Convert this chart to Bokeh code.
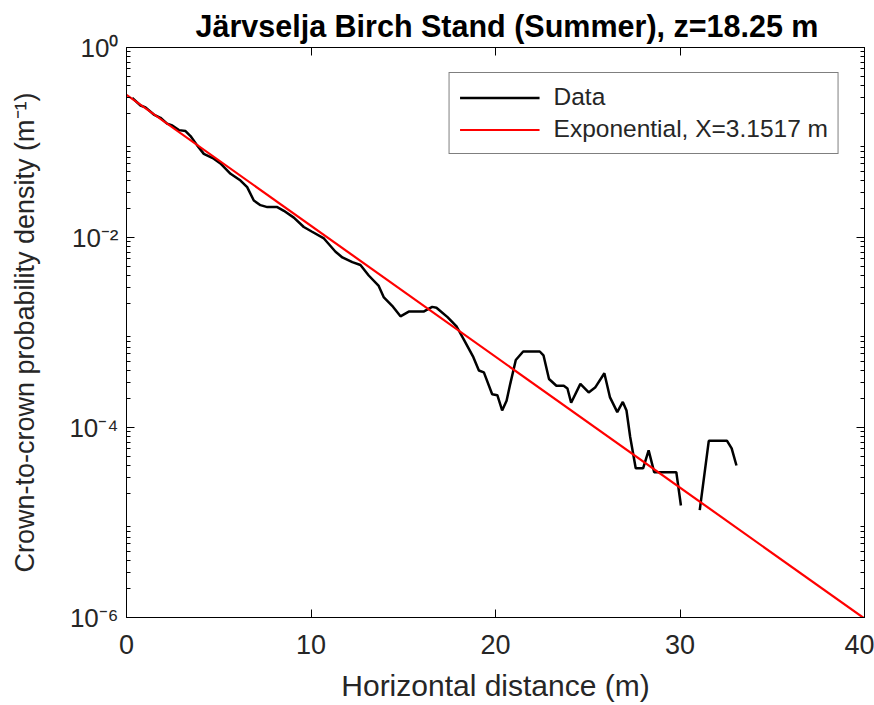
from bokeh.plotting import figure
from bokeh.models import (FixedTicker, LogAxis, LinearAxis, CustomJSTickFormatter,
                          Legend, LegendItem)
from bokeh.embed import file_html
from bokeh.resources import INLINE

nan = float("nan")

# ---- data ----
dist = [0.31, 0.76, 1.03, 1.48, 1.84, 2.2, 2.48, 2.84, 3.2, 3.47, 3.83, 4.19, 4.73,
        5.09, 5.64, 6.18, 6.54, 6.9, 7.26, 7.63, 8.17, 8.53, 9.07, 9.61, 10.06, 10.7,
        11.33, 11.7, 12.24, 12.68, 13.13, 13.67, 13.95, 14.4, 14.85, 15.3, 16.1, 16.57,
        16.8, 17.4, 17.9, 18.3, 18.8, 19.1, 19.37, 19.82, 20.1, 20.36, 20.6, 20.8, 21.1,
        21.5, 22.4, 22.6, 22.9, 23.3, 23.7, 23.9, 24.1, 24.6, 25.05, 25.4, 25.9, 26.2,
        26.6, 26.9, 27.1, 27.3, 27.6, 28.0, 28.3, 28.6, 29.8, 30.05, 30.6,
        31.07, 31.56, 32.55, 32.8, 33.06]
density = [0.295, 0.245, 0.234, 0.197, 0.182, 0.158, 0.151, 0.135, 0.132, 0.117, 0.0933,
           0.0759, 0.0676, 0.0603, 0.0468, 0.0398, 0.0339, 0.0245, 0.0219, 0.0209, 0.0209,
           0.0191, 0.0162, 0.0129, 0.0115, 0.00977, 0.00708, 0.00617, 0.0055, 0.00513,
           0.00398, 0.00309, 0.00234, 0.00191, 0.00148, 0.00166, 0.00166, 0.00186, 0.00182,
           0.00145, 0.00115, 0.000832, 0.00055, 0.000398, 0.00038, 0.000224, 0.000219,
           0.000151, 0.000191, 0.000288, 0.000513, 0.000631, 0.000631, 0.000575, 0.000324,
           0.000275, 0.000275, 0.000257, 0.000182, 0.000288, 0.000234, 0.000263, 0.000372,
           0.000209, 0.000145, 0.000186, 0.000151, 7.94e-05, 3.72e-05, 3.72e-05, 5.75e-05,
           3.39e-05, 3.39e-05, 1.51e-05, nan,
           1.35e-05, 7.24e-05, 7.24e-05, 6.03e-05, 3.98e-05]

# exponential fit (straight line on the log axis), end points
fit_x = [0.0, 40.0]
fit_y = [0.3173, 9.75e-07]
fit_label = "Exponential, X=3.1517 m"

title_text = "Järvselja Birch Stand (Summer), z=18.25 m"
x_label = "Horizontal distance (m)"
y_label = "Crown-to-crown probability density (m⁻¹)"
x_ticks = [0, 10, 20, 30, 40]
y_ticks = [1e-6, 1e-4, 1e-2, 1e0]
y_minor = [k * 10.0 ** e for e in range(-6, 0) for k in range(2, 10)]

FONT = "'Liberation Sans', Arial, sans-serif"
TXT = "#262626"

p = figure(width=874, height=705, x_range=(0, 40), y_range=(1e-6, 1e0),
           y_axis_type="log", output_backend="svg", toolbar_location=None,
           min_border_left=126, min_border_right=10, min_border_top=47,
           min_border_bottom=88)
p.background_fill_color = "white"
p.border_fill_color = "white"
p.outline_line_color = "black"
p.xgrid.visible = False
p.ygrid.visible = False

p.title.text = title_text
p.title.align = "left"
p.title.offset = 69
p.title.text_font = FONT
p.title.text_font_size = "30.5px"
p.title.text_font_style = "bold"
p.title.text_color = "black"

yt = FixedTicker(ticks=y_ticks, minor_ticks=y_minor)
xt = FixedTicker(ticks=x_ticks)

sup_fmt = CustomJSTickFormatter(code="""
const m = {'0':'\u2070','1':'\u00b9','2':'\u00b2','3':'\u00b3','4':'\u2074','5':'\u2075','6':'\u2076','7':'\u2077','8':'\u2078','9':'\u2079','-':'\u207b'};
const e = String(Math.round(Math.log10(tick)));
let s = '';
for (const c of e) { s += m[c]; }
return '10' + s;
""")

def style_axis(ax, labels=True):
    ax.axis_line_color = "black"
    ax.axis_line_width = 1
    ax.major_tick_line_color = "black"
    ax.minor_tick_line_color = "black"
    ax.major_tick_in = 8
    ax.major_tick_out = 0
    ax.minor_tick_in = 4
    ax.minor_tick_out = 0
    ax.major_label_text_font = FONT
    ax.major_label_text_color = TXT
    ax.axis_label_text_font = FONT
    ax.axis_label_text_color = TXT
    ax.axis_label_text_font_style = "normal"
    if not labels:
        ax.major_label_text_font_size = "0px"
        ax.major_label_text_alpha = 0

xa = p.xaxis[0]
xa.ticker = xt
style_axis(xa)
xa.minor_tick_line_color = None
xa.axis_label = x_label
xa.major_label_text_font_size = "27px"
xa.axis_label_text_font_size = "30px"
xa.major_label_standoff = 17
xa.axis_label_standoff = 12

ya = p.yaxis[0]
ya.ticker = yt
ya.formatter = sup_fmt
style_axis(ya)
ya.axis_label = y_label
ya.major_label_text_font_size = "26px"
ya.axis_label_text_font_size = "27px"
ya.major_label_standoff = 8
ya.axis_label_standoff = 26

top = LinearAxis(ticker=xt)
style_axis(top, labels=False)
top.minor_tick_line_color = None
p.add_layout(top, "above")

right = LogAxis(ticker=yt)
style_axis(right, labels=False)
p.add_layout(right, "right")

r_data = p.line(dist, density, line_color="black", line_width=2.5)
r_fit = p.line(fit_x, fit_y, line_color="#ff0000", line_width=2.2)

legend = Legend(items=[LegendItem(label="Data", renderers=[r_data]),
                       LegendItem(label=fit_label, renderers=[r_fit])],
                location="top_right")
legend.margin = 25
legend.padding = 10
legend.spacing = 4
legend.glyph_width = 80
legend.glyph_height = 27
legend.label_height = 27
legend.label_standoff = 14
legend.label_text_font = FONT
legend.label_text_font_size = "24.5px"
legend.label_text_color = TXT
legend.border_line_color = "black"
legend.border_line_width = 1
legend.background_fill_color = "white"
legend.background_fill_alpha = 1
p.add_layout(legend, "center")

open("out.html", "w").write(file_html(p, INLINE))
